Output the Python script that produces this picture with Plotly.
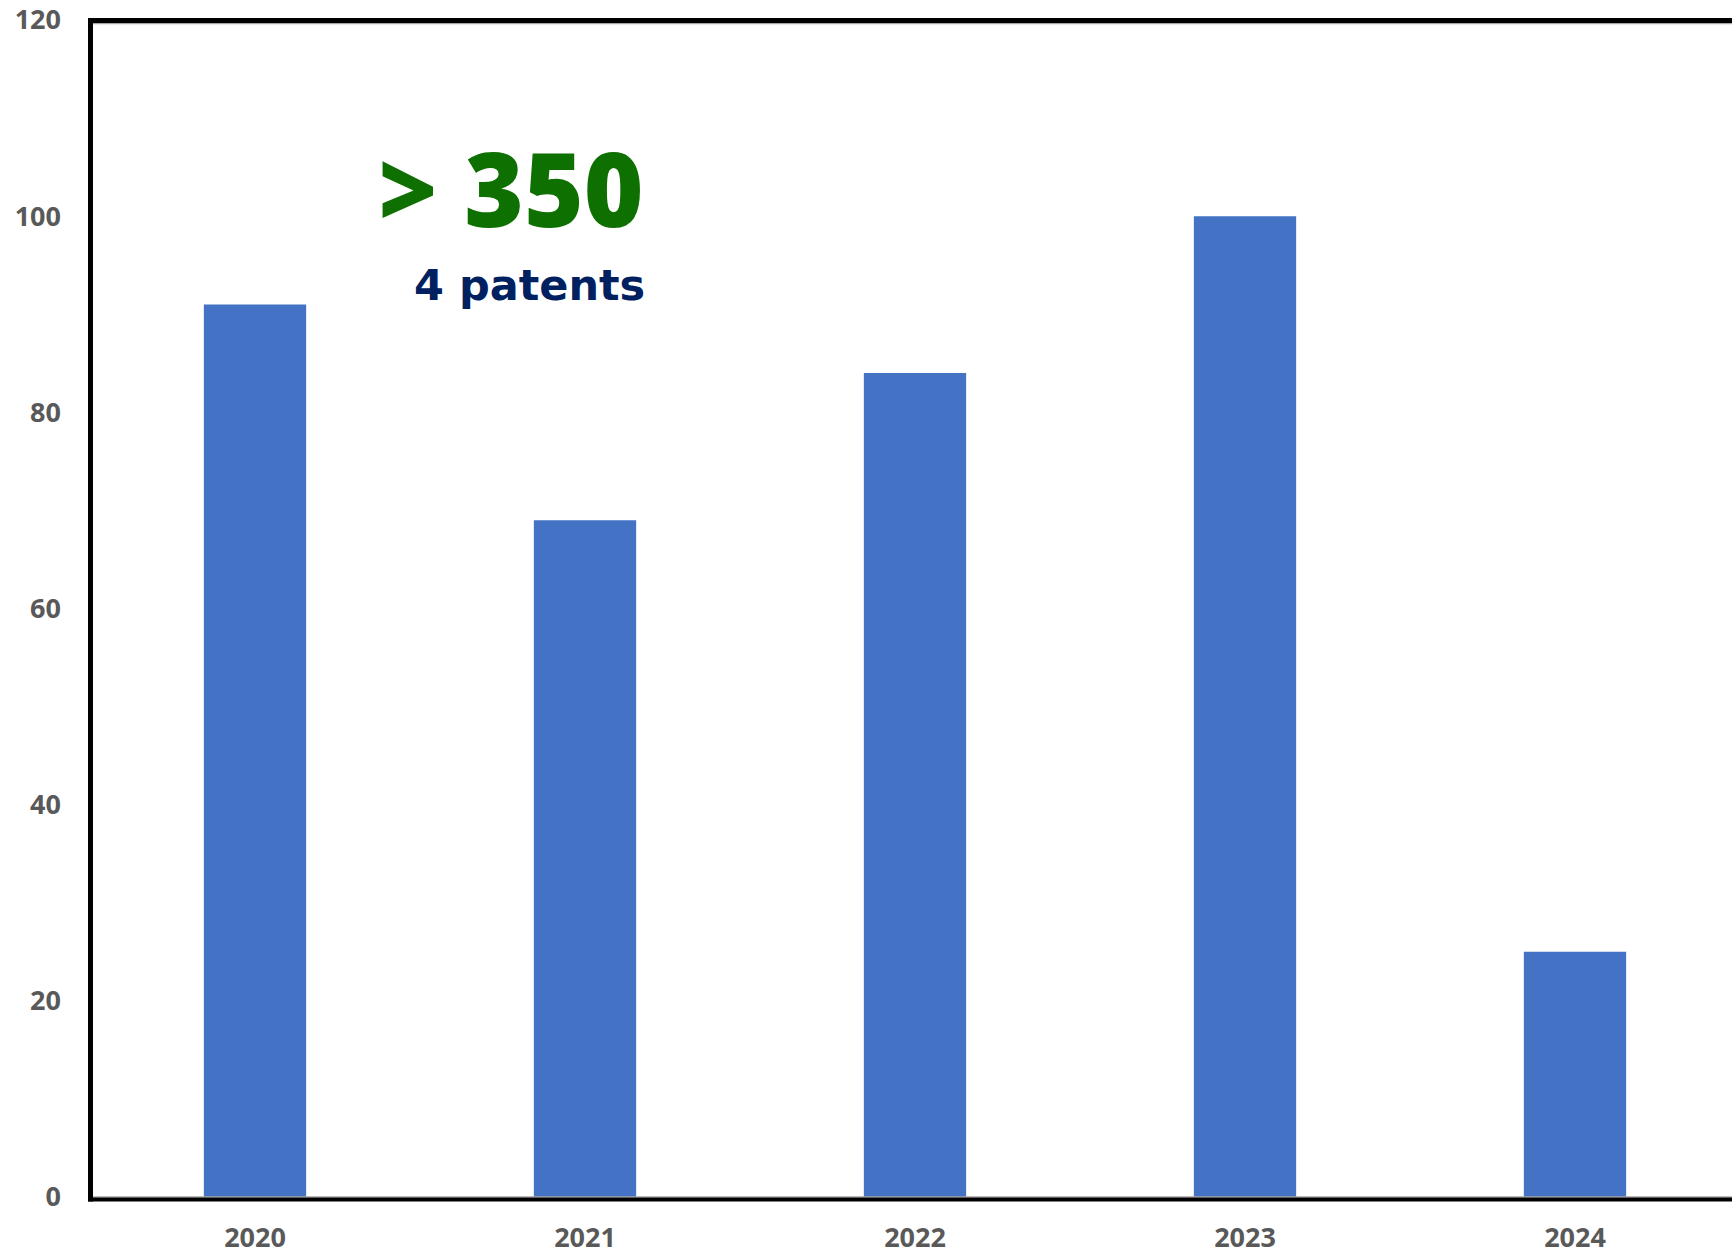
import plotly.graph_objects as go

years = ["2020", "2021", "2022", "2023", "2024"]
counts = [91, 69, 84, 100, 25]
y_ticks = [0, 20, 40, 60, 80, 100, 120]

W, H = 1732, 1255
ML, MR, MT, MB = 90, 0, 20, 55
PW, PH = W - ML - MR, H - MT - MB

def px(xp):
    return (xp - ML) / PW

def py(yp):
    return 1 - (yp - MT) / PH

fig = go.Figure(go.Bar(
    x=years, y=counts, marker=dict(color="#4472C4", line=dict(width=0)),
    width=0.31, hoverinfo="x+y",
))

tickfont = dict(family="Open Sans", size=27, color="#595959", weight="bold")

fig.update_layout(
    width=W, height=H,
    margin=dict(l=ML, r=MR, t=MT, b=MB, pad=0),
    paper_bgcolor="white", plot_bgcolor="white",
    showlegend=False,
    xaxis=dict(
        type="category", range=[-0.5, -0.5 + PW / 330.0],
        showgrid=False, showline=False, zeroline=False, ticks="",
        tickfont=tickfont, ticklabelstandoff=22,
    ),
    yaxis=dict(
        range=[0, 120], tickvals=y_ticks, showgrid=False, showline=False,
        zeroline=False, ticks="", tickfont=tickfont, ticklabelstandoff=28,
    ),
    shapes=[
        dict(type="line", xref="paper", yref="paper", x0=0, x1=1.01, y0=0, y1=0,
             line=dict(color="#a6a6a6", width=1.5), layer="above"),
        dict(type="line", xref="paper", yref="paper", x0=0, x1=1.01, y0=py(23.4), y1=py(23.4),
             line=dict(color="#a6a6a6", width=1.5), layer="above"),
        dict(type="line", xref="paper", yref="paper", x0=px(90.5), x1=px(90.5),
             y0=py(18), y1=py(1204.5), line=dict(color="black", width=5), layer="above"),
        dict(type="line", xref="paper", yref="paper", x0=px(88), x1=1.01,
             y0=py(20.5), y1=py(20.5), line=dict(color="black", width=5), layer="above"),
        dict(type="line", xref="paper", yref="paper", x0=px(88), x1=1.01,
             y0=py(1202.5), y1=py(1202.5), line=dict(color="black", width=4), layer="above"),
    ],
    annotations=[
        dict(text="> 350", xref="paper", yref="paper", x=px(511), y=py(188),
             xanchor="center", yanchor="middle", showarrow=False,
             font=dict(family="Open Sans", size=102, color="#0E7000", weight=800)),
        dict(text="4 patents", xref="paper", yref="paper", x=px(529), y=py(286),
             xanchor="center", yanchor="middle", showarrow=False,
             font=dict(family="DejaVu Sans", size=43, color="#002060", weight="bold")),
    ],
)

fig.write_html(
    "out.html",
    config={"displayModeBar": False},
    post_script="document.body.style.margin='0';document.body.style.overflow='hidden';",
)
